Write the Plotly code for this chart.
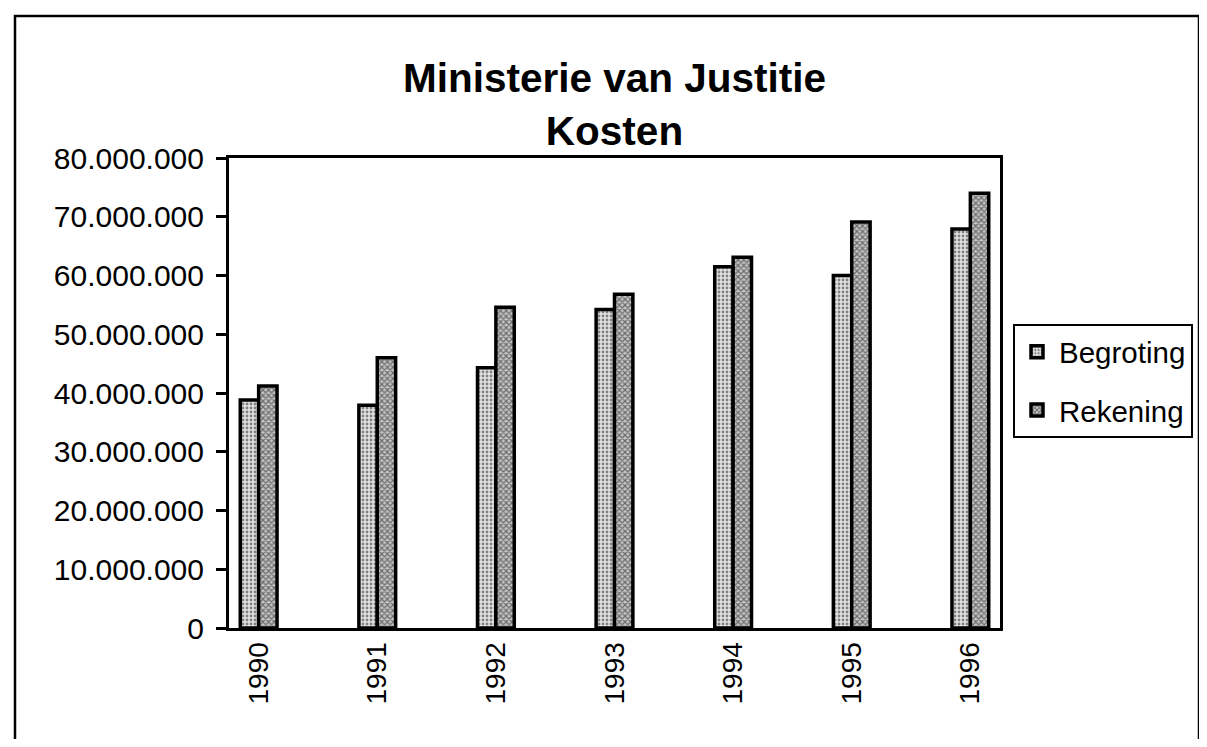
import plotly.graph_objects as go

years = ["1990", "1991", "1992", "1993", "1994", "1995", "1996"]
begroting = [38.8e6, 37.9e6, 44.3e6, 54.2e6, 61.5e6, 60.0e6, 67.9e6]
rekening = [41.2e6, 46.0e6, 54.6e6, 56.8e6, 63.1e6, 69.1e6, 74.0e6]
y_ticks = [0, 10e6, 20e6, 30e6, 40e6, 50e6, 60e6, 70e6, 80e6]
y_tick_text = ["0", "10.000.000", "20.000.000", "30.000.000", "40.000.000",
               "50.000.000", "60.000.000", "70.000.000", "80.000.000"]

# years sit on every other slot of a 13-slot axis
xpos = [2 * i for i in range(len(years))]
slot_edges = [i - 0.5 for i in range(2 * len(years))]

FONT = "Liberation Sans, Arial, sans-serif"

fig = go.Figure()
fig.add_trace(go.Bar(
    x=xpos, y=begroting, name="Begroting", legendgroup="b",
    marker=dict(color="#d0d0d0",
                line=dict(color="black", width=3.5),
                pattern=dict(shape=".", fgcolor="#222222", bgcolor="#e2e2e2",
                             size=4, solidity=0.4)),
))
fig.add_trace(go.Bar(
    x=xpos, y=rekening, name="Rekening", legendgroup="r",
    marker=dict(color="#999999",
                line=dict(color="black", width=3.5),
                pattern=dict(shape="x", fgcolor="#111111", bgcolor="#c4c4c4",
                             size=4, solidity=0.5)),
))

# page body has an 8px margin; figure sized to fit the window exactly
OFF = 8
FW, FH = 1207 - 2 * OFF, 747 - 2 * OFF
PL, PR, PT, PB = 229, 1000, 158, 628  # plot area in screen pixels
L, T = PL - OFF, PT - OFF
W, H = PR - PL, PB - PT
R, B = FW - L - W, FH - T - H

def px_x(p):
    return (p - PL) / W

def px_y(p):
    return (PB - p) / H

fig.update_layout(
    width=FW, height=FH,
    margin=dict(l=L, r=R, t=T, b=B, autoexpand=False),
    paper_bgcolor="white", plot_bgcolor="white",
    font=dict(family=FONT, color="black", size=28),
    barmode="group", bargap=0.69, bargroupgap=0,
    title=dict(text="<b>Ministerie van Justitie<br>Kosten</b>",
               font=dict(size=40.5, family=FONT, color="black"),
               x=0.5, xref="paper", xanchor="center",
               y=1 - (92 - OFF) / FH, yanchor="middle"),
    legend=dict(x=px_x(1013), xanchor="left", y=px_y(381), yanchor="middle",
                bordercolor="black", borderwidth=2, bgcolor="white",
                font=dict(size=29.5, family=FONT, color="black"),
                tracegroupgap=17, itemwidth=34),
    xaxis=dict(range=[-0.5, 2 * len(years) - 1.5], tickmode="array",
               tickvals=xpos, ticktext=years, tickangle=-90, ticks="",
               showline=True, linecolor="black", linewidth=3, mirror=True,
               showgrid=False, zeroline=False,
               tickfont=dict(size=28, family=FONT, color="black")),
    xaxis2=dict(range=[-0.5, 2 * len(years) - 1.5], overlaying="x", side="bottom",
                tickmode="array", tickvals=slot_edges, ticks="outside",
                ticklen=10, tickwidth=2.5, tickcolor="black",
                showticklabels=False, showline=False, showgrid=False,
                zeroline=False, anchor="y"),
    xaxis3=dict(range=[-0.5, 2 * len(years) - 1.5], overlaying="x", side="bottom",
                tickmode="array", tickvals=slot_edges, ticks="inside",
                ticklen=6, tickwidth=2.5, tickcolor="black",
                showticklabels=False, showline=False, showgrid=False,
                zeroline=False, anchor="y"),
    yaxis=dict(range=[0, 80e6], tickmode="array", tickvals=y_ticks,
               ticktext=y_tick_text, ticks="outside", ticklen=10, tickwidth=2.5,
               tickcolor="black", showline=True, linecolor="black", linewidth=3,
               mirror=True, showgrid=False, zeroline=False,
               ticklabelstandoff=6,
               tickfont=dict(size=30, family=FONT, color="black")),
    showlegend=True,
    shapes=[dict(type="rect", xref="paper", yref="paper",
                 x0=px_x(15), x1=px_x(1199), y0=px_y(800), y1=px_y(16),
                 line=dict(color="black", width=2.5), fillcolor="rgba(0,0,0,0)",
                 layer="below")],
)

fig.write_html("out.html")
